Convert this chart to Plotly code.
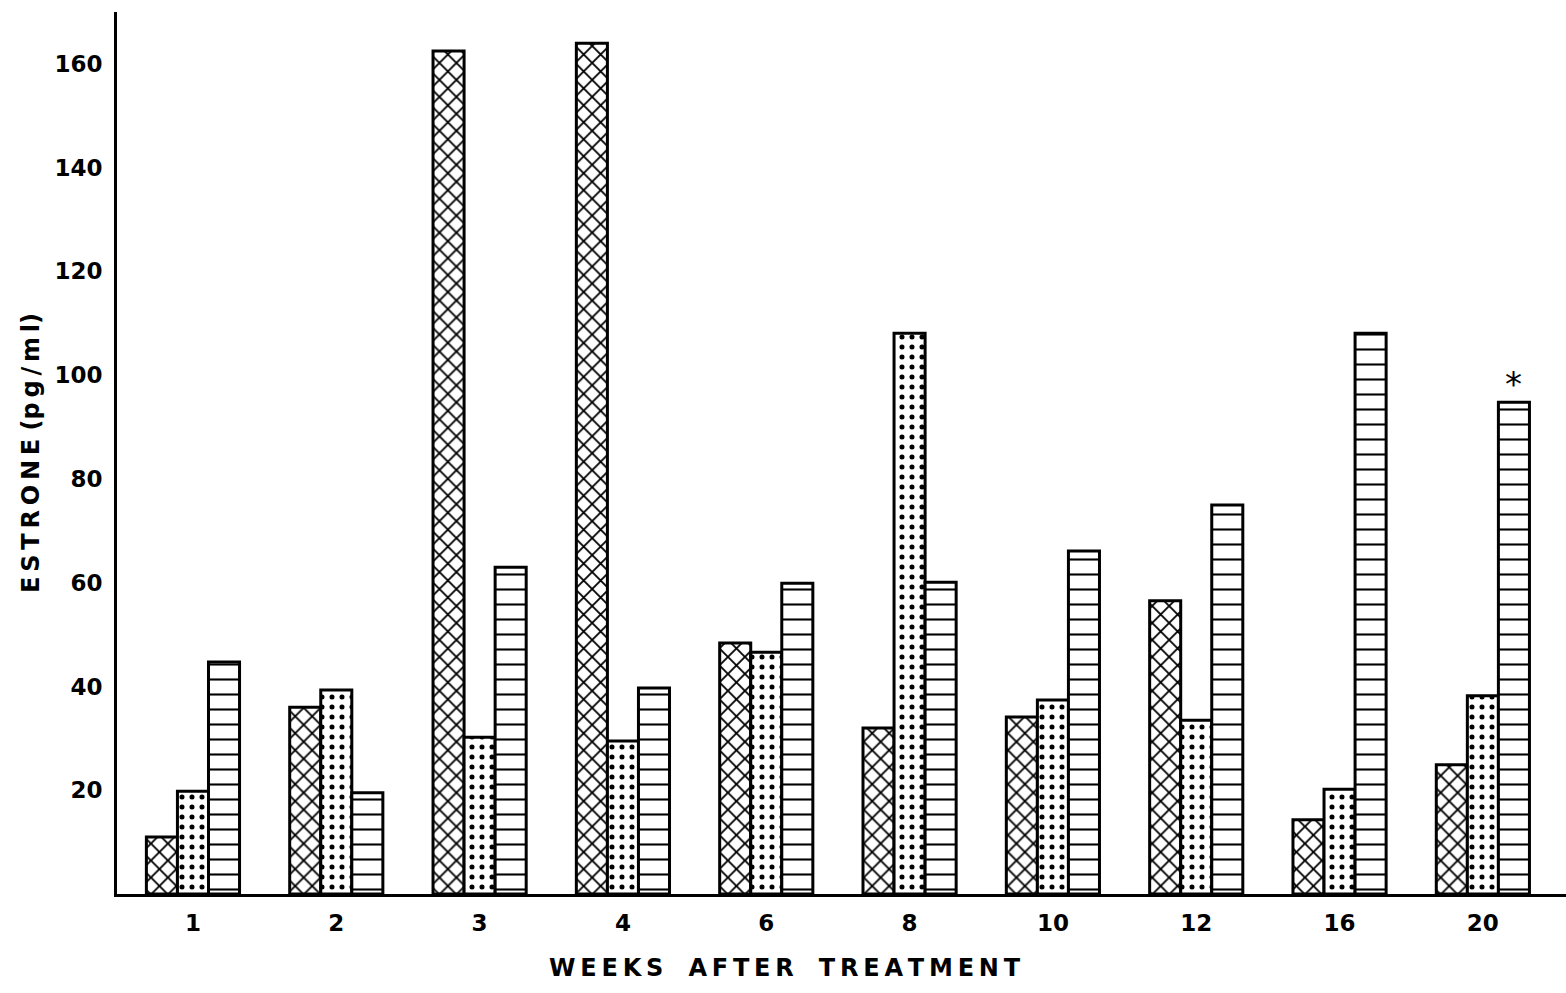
import plotly.graph_objects as go

# Weeks after treatment (category labels)
weeks = ["1", "2", "3", "4", "6", "8", "10", "12", "16", "20"]

# Estrone (pg/ml) for the three groups
group_a = [11.0, 36.0, 162.5, 164.0, 48.4, 32.0, 34.1, 56.5, 14.3, 24.9]   # crosshatch
group_b = [19.8, 39.3, 30.2, 29.5, 46.6, 108.1, 37.4, 33.5, 20.2, 38.2]    # dotted
group_c = [44.7, 19.5, 63.0, 39.7, 59.9, 60.1, 66.1, 75.0, 108.1, 94.8]    # wavy

y_ticks = [20, 40, 60, 80, 100, 120, 140, 160]

x_pos = list(range(len(weeks)))
bargap = 0.35
bar_w = (1 - bargap) / 3

font_family = "DejaVu Sans, sans-serif"
thin = "\u2009"

def spaced(text):
    # widen the lettering with thin spaces between characters
    return thin.join(text)

def bar(values, shape, size, solidity, name):
    return go.Bar(
        x=x_pos, y=values, name=name,
        marker=dict(
            color="white",
            line=dict(color="black", width=3),
            pattern=dict(shape=shape, size=size, solidity=solidity,
                         fgcolor="black", fgopacity=1, bgcolor="white",
                         fillmode="overlay"),
        ),
    )

fig = go.Figure([
    bar(group_a, "x", 12, 0.28, "A"),
    bar(group_b, ".", 10, 0.2, "B"),
    bar(group_c, "-", 15, 0.14, "C"),
])

# asterisk above the last wavy bar
fig.add_annotation(
    x=len(weeks) - 1 + bar_w, y=group_c[-1], text="*", showarrow=False,
    yanchor="bottom", yshift=-4,
    font=dict(family=font_family, size=34, color="black"),
)

# x-axis title, set slightly left of the plot centre
fig.add_annotation(
    xref="paper", yref="paper", x=0.461, y=0, yanchor="top", yshift=-58,
    text=spaced("WEEKS") + "   " + spaced("AFTER") + "   " + spaced("TREATMENT"),
    showarrow=False, font=dict(family=font_family, size=24, weight="bold", color="black"),
)

fig.update_layout(
    width=1566, height=993,
    margin=dict(l=117, r=0, t=12, b=99),
    paper_bgcolor="white", plot_bgcolor="white",
    barmode="group", bargap=bargap, bargroupgap=0,
    showlegend=False,
    font=dict(family=font_family, color="black"),
)

fig.update_xaxes(
    range=[-0.53, len(weeks) - 1 + 0.58],
    tickmode="array", tickvals=x_pos, ticktext=weeks,
    tickfont=dict(size=23, weight="bold"),
    ticks="outside", ticklen=6, tickcolor="rgba(0,0,0,0)",
    showline=True, linecolor="black", linewidth=3,
    showgrid=False, zeroline=False,
)

fig.update_yaxes(
    range=[0, 170],
    tickmode="array", tickvals=y_ticks, ticktext=[str(v) for v in y_ticks],
    tickfont=dict(size=23, weight="bold"),
    ticks="outside", ticklen=7, tickcolor="rgba(0,0,0,0)",
    showline=True, linecolor="black", linewidth=3,
    showgrid=False, zeroline=False,
    title=dict(text=spaced("ESTRONE") + " (" + spaced("pg/ml") + ")",
               font=dict(size=24, weight="bold"), standoff=8),
)

fig.write_html("out.html")
